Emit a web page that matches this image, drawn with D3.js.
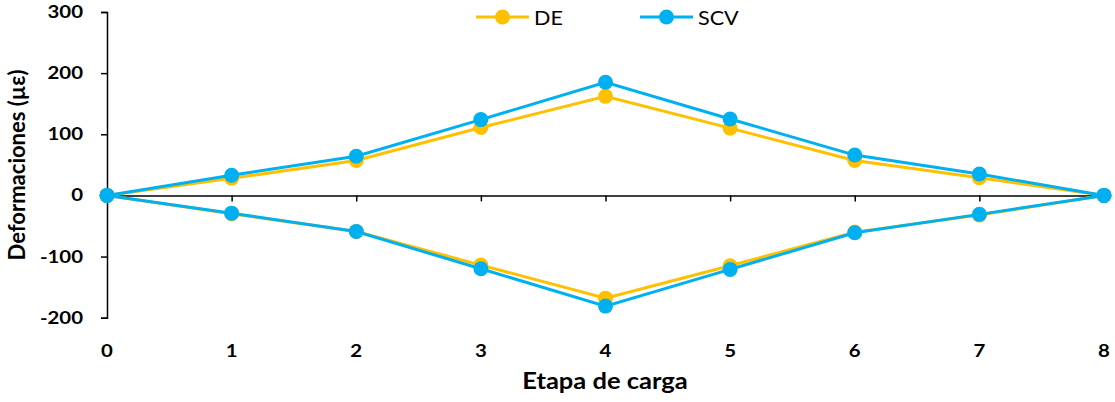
<!DOCTYPE html>
<html>
<head>
<meta charset="utf-8">
<script src="https://cdn.jsdelivr.net/npm/d3@7/dist/d3.min.js"></script>
<style>
  html, body { margin: 0; padding: 0; background: #fff; }
  svg { display: block; }
</style>
</head>
<body>
<svg id="chart" width="1115" height="402"></svg>
<script>
// Load stages
const stages = [0, 1, 2, 3, 4, 5, 6, 7, 8];
// Strain readings (µε), tension branch and compression branch
const deTension      = [0, 28, 57, 111, 162, 110, 57, 29, 0];
const deCompression  = [0, -30, -59, -114, -168, -115, -60, -32, 0];
const scvTension     = [0, 33, 64, 124, 185, 125, 66, 35, 0];
const scvCompression = [0, -29, -59, -120, -181, -121, -61, -31, 0];
// Axis ticks
const yTicks = [-200, -100, 0, 100, 200, 300];
const xTicks = [0, 1, 2, 3, 4, 5, 6, 7, 8];

const series = [
  { name: "DE",  color: "#FFC000", branches: [deTension, deCompression] },
  { name: "SCV", color: "#00B0F0", branches: [scvTension, scvCompression] }
];

const svg = d3.select("#chart");
const font = "Lato, 'Open Sans', sans-serif";
const wide = 1.2; // horizontal widening of the label glyphs

const x = d3.scaleLinear().domain([0, 8]).range([107, 1104]);
const y = d3.scaleLinear().domain([-200, 300]).range([317.7, 12]);

// Y axis (line and ticks; labels drawn separately)
const yAxis = svg.append("g")
  .attr("transform", `translate(${x(0)},0)`)
  .call(d3.axisLeft(y).tickValues(yTicks).tickSize(6).tickFormat(""));
yAxis.select(".domain").attr("stroke", "#000").attr("stroke-width", 1.5);
yAxis.selectAll(".tick line").attr("stroke", "#000").attr("stroke-width", 1.5);

svg.append("g").selectAll("text")
  .data(yTicks)
  .join("text")
  .attr("transform", d => `translate(83,${y(d) + 6}) scale(${wide},1)`)
  .attr("text-anchor", "end")
  .attr("font-family", font).attr("font-weight", "bold").attr("font-size", 17)
  .text(d => String(d));

// X axis line at zero with ticks below
const xAxis = svg.append("g")
  .attr("transform", `translate(0,${y(0)})`)
  .call(d3.axisBottom(x).tickValues(xTicks).tickSize(6).tickSizeOuter(0).tickFormat(""));
xAxis.select(".domain").attr("stroke", "#000").attr("stroke-width", 1.5);
xAxis.selectAll(".tick line").attr("stroke", "#000").attr("stroke-width", 1.5);

// X tick labels sit below the plot area
svg.append("g").selectAll("text")
  .data(xTicks)
  .join("text")
  .attr("transform", d => `translate(${x(d)},357) scale(${wide},1)`)
  .attr("text-anchor", "middle")
  .attr("font-family", font).attr("font-weight", "bold").attr("font-size", 17)
  .text(d => d);

// Axis titles
svg.append("text")
  .attr("transform", "translate(605,389) scale(1.16,1)")
  .attr("text-anchor", "middle")
  .attr("font-family", font).attr("font-weight", "bold").attr("font-size", 22)
  .text("Etapa de carga");

svg.append("text")
  .attr("transform", "translate(25,165) rotate(-90)")
  .attr("text-anchor", "middle")
  .attr("font-family", font).attr("font-weight", "bold").attr("font-size", 22)
  .text("Deformaciones (µε)");

// Lines and markers
const line = d3.line().x((d, i) => x(stages[i])).y(d => y(d));

series.forEach(s => {
  const g = svg.append("g");
  s.branches.forEach(vals => {
    g.append("path")
      .attr("d", line(vals))
      .attr("fill", "none")
      .attr("stroke", s.color)
      .attr("stroke-width", 3);
  });
  s.branches.forEach(vals => {
    g.selectAll(null)
      .data(vals)
      .join("circle")
      .attr("cx", (d, i) => x(stages[i]))
      .attr("cy", d => y(d))
      .attr("r", 7.5)
      .attr("fill", s.color);
  });
});

// Legend
const legendItems = [
  { name: "DE",  color: "#FFC000", x0: 476 },
  { name: "SCV", color: "#00B0F0", x0: 640 }
];
const lg = svg.append("g");
legendItems.forEach(it => {
  lg.append("line")
    .attr("x1", it.x0).attr("x2", it.x0 + 53)
    .attr("y1", 17).attr("y2", 17)
    .attr("stroke", it.color).attr("stroke-width", 3);
  lg.append("circle")
    .attr("cx", it.x0 + 26.5).attr("cy", 17).attr("r", 7.5)
    .attr("fill", it.color);
  lg.append("text")
    .attr("transform", `translate(${it.x0 + 58},25) scale(1.08,1)`)
    .attr("font-family", font).attr("font-size", 20)
    .text(it.name);
});
</script>
</body>
</html>
